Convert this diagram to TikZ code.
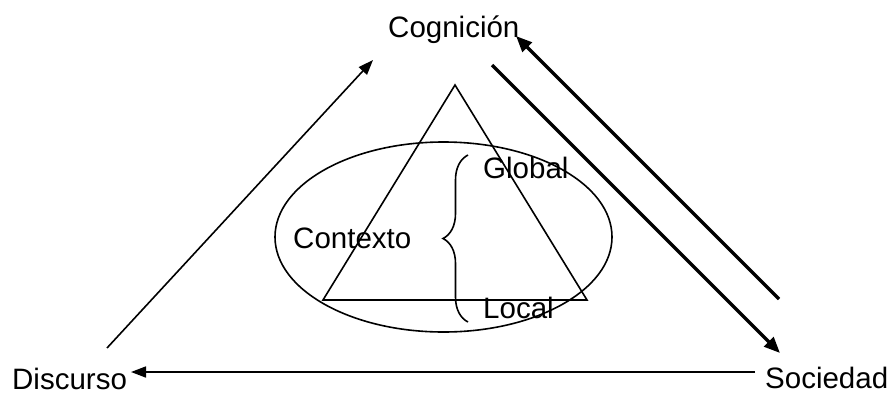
\documentclass[tikz,border=0pt]{standalone}
\usepackage{fontspec}
\setmainfont{Liberation Sans}
\usetikzlibrary{arrows.meta,decorations.pathreplacing}
\begin{document}
\begin{tikzpicture}[x=1pt,y=-1pt,
  lbl/.style={anchor=base west,inner sep=0pt,text depth=0pt,font=\fontsize{29.5}{34}\selectfont},
  thin/.style={line width=1.6pt},
  thinarrow/.style={line width=1.6pt,-{Triangle[length=15pt,width=11pt]}},
  thickarrow/.style={line width=3.5pt,-{Triangle[length=16pt,width=13pt]}},
  thickline/.style={line width=3.5pt}]
\useasboundingbox (0,0) rectangle (891,394);
% labels
\node[lbl] (cog) at (388,37) {Cognición};
\node[lbl] (dis) at (12,389) {Discurso};
\node[lbl] (soc) at (765,388) {Sociedad};
% coordinates for connector ends
\coordinate (a1s) at (107,348);
\coordinate (a1e) at (373,60);
\coordinate (a2s) at (755,372);
\coordinate (a2e) at (131,372);
\coordinate (a3s) at (492,65);
\coordinate (a3e) at (780,353);
\coordinate (a4s) at (779,299);
\coordinate (a4e) at (516,36);
% connectors
\draw[thinarrow] (a1s) -- (a1e);
\draw[thinarrow] (a2s) -- (a2e);
\draw[thickarrow] (a3s) -- (a3e);
\draw[thickarrow] (a4s) -- (a4e);
% ellipse and triangle
\draw[thin] (443.5,237) ellipse [x radius=168.5pt, y radius=95pt];
\coordinate (tA) at (455,85);
\coordinate (tB) at (323,300);
\coordinate (tC) at (587,300);
\draw[thin,line join=miter] (tA) -- (tB) -- (tC) -- cycle;
% brace
\coordinate (bb) at (468,322);
\coordinate (bt) at (468,155);
\draw[thin,decorate,decoration={brace,amplitude=25pt}] (bb) -- (bt);
% inner labels
\node[lbl] (ctx) at (293,248) {Contexto};
\node[lbl] (glo) at (483,178) {Global};
\node[lbl] (loc) at (483,318) {Local};
\end{tikzpicture}
\end{document}
